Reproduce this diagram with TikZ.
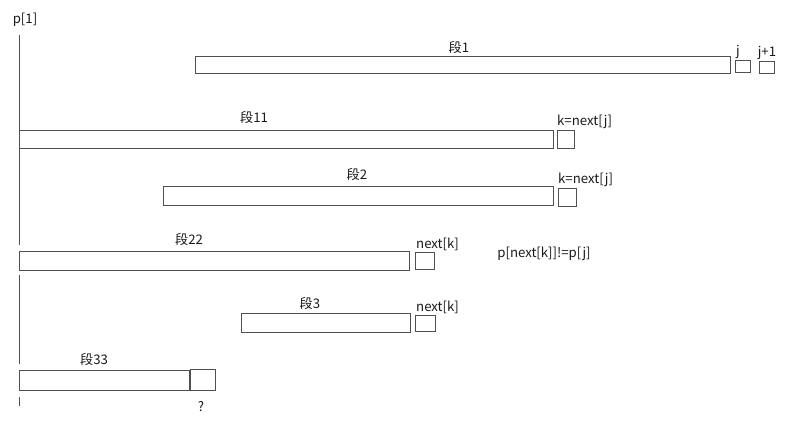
\documentclass[tikz,border=0pt]{standalone}
\usepackage{fontspec}
\setmainfont{Noto Sans CJK SC}
\usetikzlibrary{positioning}
\definecolor{lngray}{RGB}{80,80,80}
\definecolor{txtdark}{RGB}{25,25,25}

\begin{document}
\begin{tikzpicture}[x=1pt, y=-1pt,
  bar/.style={draw=lngray, line width=0.9pt, inner sep=0pt, anchor=north west},
  cell/.style={draw=lngray, line width=0.9pt, inner sep=0pt, anchor=north west},
  lbl/.style={font=\fontsize{13.2}{15}\selectfont, text=txtdark, inner sep=1pt},
  rail/.style={draw=lngray, line width=0.9pt}]
\useasboundingbox (0,0) rectangle (789,423);

% Left rail
\node[lbl] (p1) at (25,20) {p[1]};
\coordinate (ptop) at (19,35);

% Segment 1 with j, j+1
\node[bar, minimum width=535pt, minimum height=17pt] (s1) at (195,56) {};
\node[cell, minimum width=15pt, minimum height=12pt] (cj) at (735,60) {};
\node[cell, minimum width=15pt, minimum height=12pt] (cj1) at (759,61) {};
\node[lbl] (t1) at (459,47) {段1};
\node[lbl, above=0pt of cj.north west, anchor=south west] (tj) {j};
\node[lbl, above=0pt of cj1] (tj1) {j+1};

% Segment 11
\node[bar, minimum width=534pt, minimum height=18pt] (s11) at (19,130) {};
\node[cell, minimum width=17pt, minimum height=18pt] (k11) at (557,130) {};
\node[lbl] (t11) at (254,117) {段11};
\node[lbl, above=0pt of k11.north west, anchor=south west, xshift=-1pt] (tk11) {k=next[j]};

% Segment 2
\node[bar, minimum width=390pt, minimum height=19pt] (s2) at (163,186) {};
\node[cell, minimum width=18pt, minimum height=18pt] (k2) at (558,188) {};
\node[lbl] (t2) at (357,174) {段2};
\node[lbl, above=0pt of k2.north west, anchor=south west, xshift=-1pt] (tk2) {k=next[j]};

% Segment 22
\node[bar, minimum width=390pt, minimum height=19pt] (s22) at (19,251) {};
\node[cell, minimum width=19pt, minimum height=17pt] (n22) at (415,252) {};
\node[lbl] (t22) at (189,239) {段22};
\node[lbl, above=0pt of n22.north west, anchor=south west] (tn22) {next[k]};
\node[lbl] (cond) at (544,254) {p[next[k]]!=p[j]};

% Segment 3
\node[bar, minimum width=169pt, minimum height=19pt] (s3) at (241,313) {};
\node[cell, minimum width=20pt, minimum height=16pt] (n3) at (415,315) {};
\node[lbl] (t3) at (310,303) {段3};
\node[lbl, above=0pt of n3.north west, anchor=south west] (tn3) {next[k]};

% Segment 33
\node[bar, minimum width=170pt, minimum height=20pt] (s33) at (19,370) {};
\node[cell, minimum width=25pt, minimum height=21pt] (q) at (190,369) {};
\node[lbl] (t33) at (94,359) {段33};
\node[lbl] (tq) at (201,407) {?};

% rail pieces
\draw[rail] (ptop) -- ([yshift=6pt]s22.north west);
\draw[rail] ([yshift=-4pt]s22.south west) -- ([yshift=6pt]s33.north west);
\draw[rail] ([yshift=-6pt]s33.south west) -- ++(0,9);
\end{tikzpicture}
\end{document}
